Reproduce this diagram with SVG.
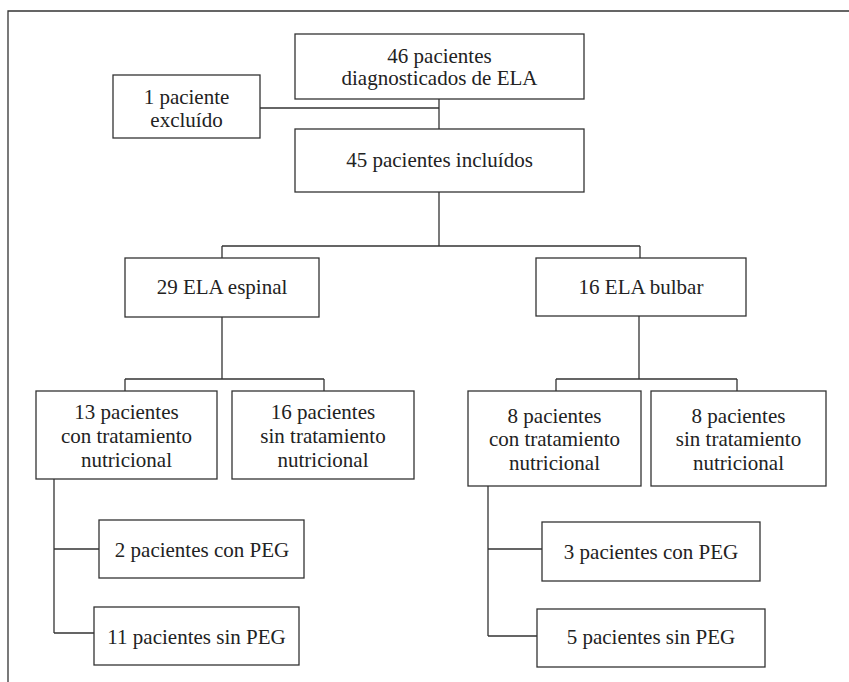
<svg xmlns="http://www.w3.org/2000/svg" width="849" height="682" viewBox="0 0 849 682">
<style>
.box{fill:#fff;stroke:#333;stroke-width:1.3}
.ln{fill:none;stroke:#333;stroke-width:1.3}
text{font-size:21px;fill:#222;text-anchor:middle}
</style>
<rect width="849" height="682" fill="#fff"/>
<g id="frame"><path class="ln" d="M8,682 V11 H849"/></g>
<g id="connectors">
<path class="ln" d="M439,99 V129"/>
<path class="ln" d="M260,108 H439"/>
<path class="ln" d="M439,192 V246 M222,246 H640 M222,246 V258 M640,246 V258"/>
<path class="ln" d="M222,317 V379 M125,379 H324 M125,379 V391 M324,379 V391"/>
<path class="ln" d="M639,316 V379 M556,379 H737 M556,379 V391 M737,379 V391"/>
<path class="ln" d="M54,479 V633 M54,549 H99 M54,633 H94"/>
<path class="ln" d="M488,486 V636 M488,549 H542 M488,636 H537"/>
</g>
<g font-family="Liberation Serif, DejaVu Serif, serif">
<g id="n46"><rect class="box" x="295" y="34" width="289" height="65"/><text x="439.5" y="63">46 pacientes</text><text x="439.5" y="85">diagnosticados de ELA</text></g>
<g id="excl"><rect class="box" x="113" y="75" width="147" height="63"/><text x="186.5" y="104">1 paciente</text><text x="186.5" y="127">excluído</text></g>
<g id="n45"><rect class="box" x="295" y="129" width="289" height="63"/><text x="439.5" y="167">45 pacientes incluídos</text></g>
<g id="espinal"><rect class="box" x="125" y="258" width="194" height="59"/><text x="222" y="294">29 ELA espinal</text></g>
<g id="bulbar"><rect class="box" x="536" y="258" width="210" height="58"/><text x="641" y="294">16 ELA bulbar</text></g>
<g id="e_con"><rect class="box" x="36" y="391" width="181" height="88"/><text x="126.5" y="419">13 pacientes</text><text x="126.5" y="443">con tratamiento</text><text x="126.5" y="467">nutricional</text></g>
<g id="e_sin"><rect class="box" x="232" y="391" width="182" height="88"/><text x="323" y="419">16 pacientes</text><text x="323" y="443">sin tratamiento</text><text x="323" y="467">nutricional</text></g>
<g id="b_con"><rect class="box" x="468" y="391" width="173" height="95"/><text x="554.5" y="423">8 pacientes</text><text x="554.5" y="446">con tratamiento</text><text x="554.5" y="470">nutricional</text></g>
<g id="b_sin"><rect class="box" x="651" y="391" width="175" height="95"/><text x="738.5" y="423">8 pacientes</text><text x="738.5" y="446">sin tratamiento</text><text x="738.5" y="470">nutricional</text></g>
<g id="e_peg"><rect class="box" x="99" y="520" width="205" height="58"/><text x="202" y="557">2 pacientes con PEG</text></g>
<g id="e_nopeg"><rect class="box" x="94" y="607" width="205" height="58"/><text x="196.5" y="644">11 pacientes sin PEG</text></g>
<g id="b_peg"><rect class="box" x="542" y="522" width="218" height="59"/><text x="651" y="559">3 pacientes con PEG</text></g>
<g id="b_nopeg"><rect class="box" x="537" y="609" width="228" height="58"/><text x="651" y="644">5 pacientes sin PEG</text></g>
</g>
</svg>
